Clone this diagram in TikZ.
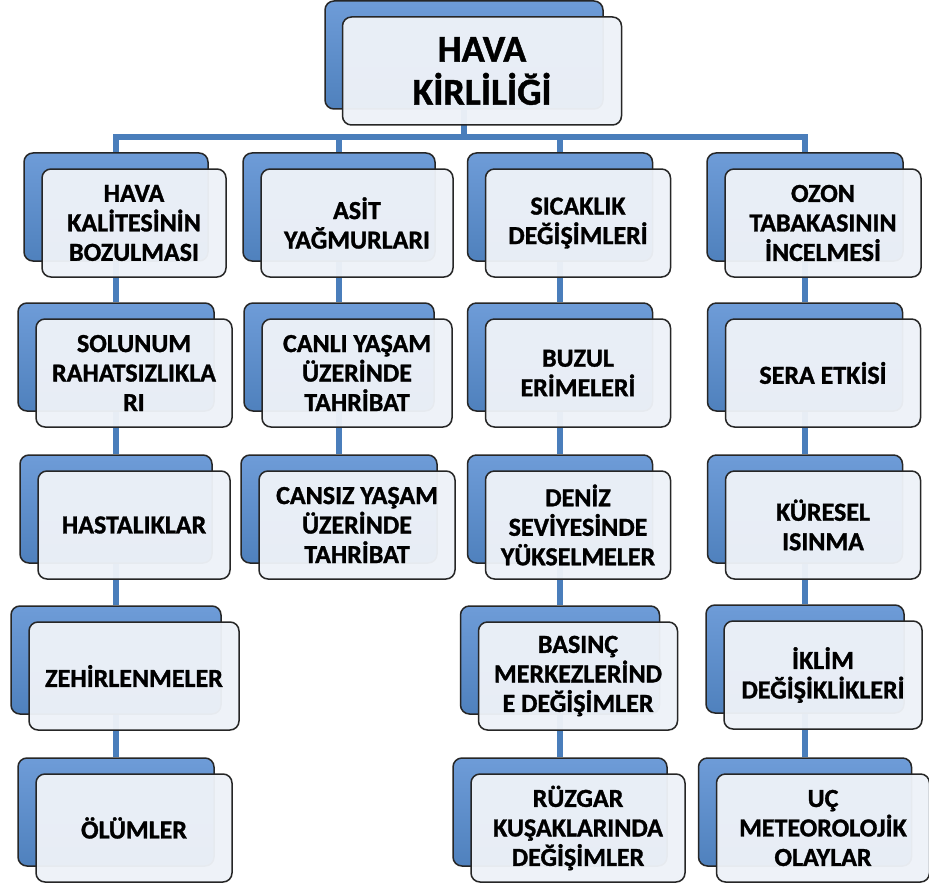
\documentclass[tikz,border=0pt]{standalone}
\usepackage{fontspec}
\setmainfont{Carlito}[BoldFont={Carlito Bold}, BoldFeatures={FakeBold=1.2}]
\usepackage{tikz}
\usetikzlibrary{calc, backgrounds}
\definecolor{ink}{HTML}{262626}
\definecolor{linkblue}{HTML}{4A7EBB}
\definecolor{backtop}{HTML}{6E9CD8}
\definecolor{backbot}{HTML}{4F81BD}
\definecolor{paper}{HTML}{EEF2F8}

\begin{document}
\begin{tikzpicture}[x=1pt, y=-1pt,
  backbox/.style={draw=ink, line width=1.5pt, rounded corners=9pt,
    top color=backtop, bottom color=backbot, minimum height=108pt, inner sep=0pt},
  frontbox/.style={draw=ink, line width=1.5pt, rounded corners=9pt,
    fill=paper, fill opacity=0.96, text opacity=1, minimum height=108pt,
    inner sep=0pt, align=center, font=\bfseries\fontsize{26}{29.5}\selectfont},
  link/.style={linkblue, line width=6pt}]
  \useasboundingbox (0,0) rectangle (929,888);

  % root
  \node[backbox, minimum width=278pt] (b-top) at (464,55) {};
  \node[frontbox, minimum width=279pt, font=\bfseries\fontsize{38}{43}\selectfont]
    (top) at ($(b-top)+(18,16)$) {HAVA\\KİRLİLİĞİ};

  % columns: name / x / y / width / text
  \foreach \nm/\x/\y/\w/\txt in {%
    c1r1/116/207/184/{HAVA\\KALİTESİNİN\\BOZULMASI},
    c1r2/116/357/196/{SOLUNUM\\RAHATSIZLIKLA\\RI},
    c1r3/116/509/192/{HASTALIKLAR},
    c1r4/116/660/210/{ZEHİRLENMELER},
    c1r5/116/812/196/{ÖLÜMLER},
    c2r1/339/207/192/{ASİT\\YAĞMURLARI},
    c2r2/339/357/190/{CANLI YAŞAM\\ÜZERİNDE\\TAHRİBAT},
    c2r3/339/509/196/{CANSIZ YAŞAM\\ÜZERİNDE\\TAHRİBAT},
    c3r1/560/207/185/{SICAKLIK\\DEĞİŞİMLERİ},
    c3r2/560/357/185/{BUZUL\\ERİMELERİ},
    c3r3/560/509/185/{DENİZ\\SEVİYESİNDE\\YÜKSELMELER},
    c3r4/560/660/199/{BASINÇ\\MERKEZLERİND\\E DEĞİŞİMLER},
    c3r5/560/812/214/{RÜZGAR\\KUŞAKLARINDA\\DEĞİŞİMLER},
    c4r1/805/207/196/{OZON\\TABAKASININ\\İNCELMESİ},
    c4r2/805/357/195/{SERA ETKİSİ},
    c4r3/805/509/195/{KÜRESEL\\ISINMA},
    c4r4/805/659/198/{İKLİM\\DEĞİŞİKLİKLERİ},
    c4r5/805/812/213/{UÇ\\METEOROLOJİK\\OLAYLAR}}{
    \node[backbox, minimum width=\w pt] (b-\nm) at (\x,\y) {};
    \node[frontbox, minimum width=\w pt] (\nm) at ($(b-\nm)+(18,16)$) {\txt};
  }

  % connectors behind the boxes
  \begin{scope}[on background layer]
    \fill[white] (0,0) rectangle (929,888);
    \coordinate (bus) at (464,137);
    \draw[link] (b-top) -- (bus);
    \foreach \c in {c1r1, c2r1, c3r1, c4r1}
      \draw[link] (bus) -| (b-\c);
    \foreach \a/\b in {c1r1/c1r2, c1r2/c1r3, c1r3/c1r4, c1r4/c1r5,
      c2r1/c2r2, c2r2/c2r3,
      c3r1/c3r2, c3r2/c3r3, c3r3/c3r4, c3r4/c3r5,
      c4r1/c4r2, c4r2/c4r3, c4r3/c4r4, c4r4/c4r5}
      \draw[link] (b-\a) -- (b-\b);
  \end{scope}
\end{tikzpicture}
\end{document}
